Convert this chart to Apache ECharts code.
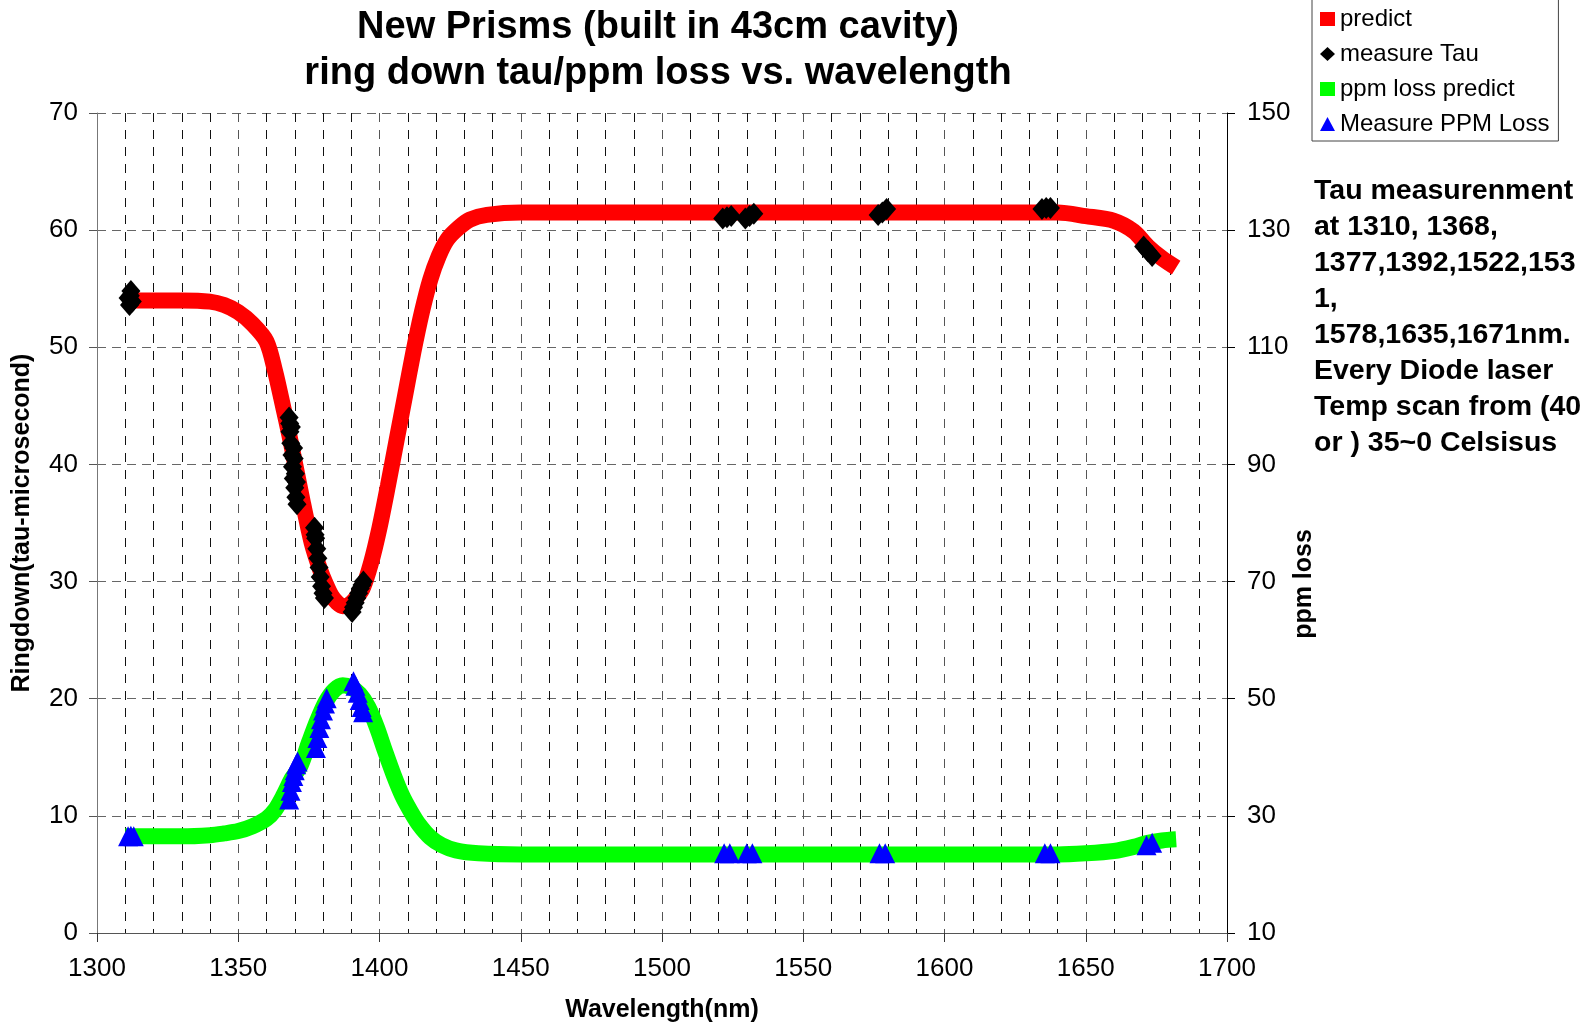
<!DOCTYPE html>
<html>
<head>
<meta charset="utf-8">
<title>New Prisms ring down</title>
<script src="https://cdn.jsdelivr.net/npm/echarts@6/dist/echarts.min.js"></script>
<style>
  html, body { margin: 0; padding: 0; background: #fff; }
  #chart { width: 1595px; height: 1024px; }
</style>
</head>
<body>
<div id="chart"></div>
<script>
// predicted ring down tau (left axis), [wavelength nm, tau us]
var predictTau = [
  [1310, 54.0], [1320, 54.0], [1330, 54.0], [1340, 53.9], [1345, 53.6],
  [1350, 53.0], [1355, 52.0], [1360, 50.5], [1363, 48.0], [1366, 44.8],
  [1368, 42.6], [1370, 40.2], [1373, 36.6], [1376, 33.3], [1379, 31.0],
  [1381, 29.8], [1383, 28.8], [1385, 28.2], [1387, 27.9], [1389, 28.0],
  [1391, 28.4], [1394, 29.4], [1397, 31.6], [1400, 34.6], [1403, 38.2],
  [1406, 42.0], [1409, 45.8], [1412, 49.6], [1415, 53.0], [1418, 55.8],
  [1421, 57.8], [1424, 59.2], [1428, 60.2], [1432, 60.9], [1438, 61.3],
  [1450, 61.5], [1500, 61.5], [1550, 61.5], [1600, 61.5], [1640, 61.5],
  [1650, 61.2], [1660, 60.8], [1667, 59.9], [1672, 58.6], [1677, 57.6],
  [1682, 56.8]
];

// measured tau points
var measureTau = [
  [1311, 54.2], [1311.5, 53.6], [1312, 54.8], [1312.5, 53.9], [1311.8, 54.4],
  [1368, 44.0], [1368.3, 42.8], [1368.6, 41.8], [1369, 40.8], [1369.2, 39.8],
  [1369.5, 38.8], [1370, 38.0], [1370.4, 37.2], [1370.8, 36.6], [1369.8, 40.5],
  [1370.2, 39.2], [1368.8, 43.2], [1369.6, 41.4], [1368.2, 43.5], [1370.6, 38.5],
  [1377, 34.6], [1377.4, 33.7], [1377.8, 32.8], [1378.2, 32.0], [1378.6, 31.2],
  [1379, 30.4], [1379.5, 29.6], [1380, 29.0], [1380.5, 28.6], [1377.2, 34.0],
  [1390.3, 27.4], [1390.8, 27.8], [1391.4, 28.2], [1392, 28.6], [1392.6, 29.0],
  [1393.2, 29.4], [1393.8, 29.7], [1394.3, 30.0],
  [1521.5, 61.0], [1523, 61.1], [1524.5, 61.2],
  [1529.5, 61.0], [1531, 61.2], [1532.5, 61.4],
  [1576.5, 61.3], [1578, 61.5], [1579.5, 61.8],
  [1634.5, 61.8], [1636, 61.9], [1637.5, 61.9],
  [1670.5, 58.6], [1672, 58.2], [1673.5, 57.8]
];

// predicted ppm loss (right axis)
var predictPpm = [
  [1310, 26.5], [1330, 26.5], [1340, 26.7], [1345, 27.0], [1350, 27.4],
  [1355, 28.2], [1360, 29.5], [1363, 31.0], [1366, 33.5], [1369, 36.4],
  [1372, 38.5], [1375, 42.5], [1378, 46.3], [1381, 49.5], [1384, 51.5],
  [1387, 52.3], [1390, 51.9], [1393, 50.8], [1396, 48.6], [1399, 45.2],
  [1402, 41.0], [1405, 37.0], [1408, 33.5], [1411, 30.8], [1414, 28.5],
  [1418, 26.3], [1422, 25.0], [1427, 24.1], [1435, 23.6], [1450, 23.4],
  [1500, 23.4], [1550, 23.4], [1600, 23.4], [1640, 23.4], [1650, 23.6],
  [1660, 24.0], [1667, 24.7], [1672, 25.4], [1677, 25.8], [1682, 26.0]
];

// measured ppm loss points
var measurePpm = [
  [1311, 26.5], [1312, 26.6], [1313, 26.5],
  [1368, 32.8], [1368.5, 34.3], [1369, 35.8], [1369.5, 36.8], [1370, 37.8],
  [1370.5, 38.8], [1371, 39.3],
  [1377.5, 41.6], [1378, 43.3], [1378.7, 45.0], [1379.3, 46.5], [1380, 48.0],
  [1380.7, 49.2], [1381.3, 50.1],
  [1390.8, 53.0], [1391.5, 52.2], [1392.3, 51.0], [1393, 49.8], [1393.7, 48.6], [1394.2, 47.7],
  [1522, 23.6], [1524, 23.6], [1530, 23.6], [1532, 23.6],
  [1577, 23.6], [1579, 23.6], [1635.5, 23.6], [1637.5, 23.6],
  [1671.5, 25.0], [1673.5, 25.4]
];

var noteLines = [
  "Tau measurenment",
  "at 1310, 1368,",
  "1377,1392,1522,153",
  "1,",
  "1578,1635,1671nm.",
  "Every Diode laser",
  "Temp scan from (40",
  "or ) 35~0 Celsisus"
];

var FONT = "'Liberation Sans', Arial, sans-serif";

var chart = echarts.init(document.getElementById("chart"), null, { renderer: "canvas" });

var option = {
  backgroundColor: "#fff",
  animation: false,
  textStyle: { fontFamily: FONT, color: "#000" },
  grid: { left: 97, right: 368, top: 113, bottom: 91, outerBoundsMode: "none", containLabel: false },
  legend: {
    orient: "vertical",
    left: 1312,
    top: -1,
    padding: [8, 9, 5, 8],
    itemWidth: 15,
    itemHeight: 14,
    itemGap: 11,
    borderColor: "#444",
    borderWidth: 1,
    textStyle: { fontSize: 24, fontFamily: FONT, color: "#000", lineHeight: 24 },
    data: [
      { name: "predict", icon: "rect" },
      { name: "measure Tau", icon: "diamond" },
      { name: "ppm loss predict", icon: "rect" },
      { name: "Measure PPM Loss", icon: "triangle" }
    ]
  },
  xAxis: {
    type: "value",
    min: 1300,
    max: 1700,
    interval: 50,
    name: "Wavelength(nm)",
    nameLocation: "middle",
    nameGap: 65,
    nameTextStyle: { fontSize: 25, fontWeight: "bold", fontFamily: FONT, color: "#000" },
    axisLine: { show: true, lineStyle: { color: "#555", width: 1 } },
    axisTick: { show: true, length: 9, lineStyle: { color: "#333" } },
    axisLabel: { fontSize: 26, color: "#000", margin: 23, fontFamily: FONT, formatter: function (v) { return String(v); } },
    splitLine: { show: true, lineStyle: { color: "#555", type: [9, 8], width: 1 } },
    minorTick: { show: false, splitNumber: 5 },
    minorSplitLine: { show: true, lineStyle: { color: "#111", type: [9, 8], width: 1 } }
  },
  yAxis: [
    {
      type: "value",
      min: 0,
      max: 70,
      interval: 10,
      name: "Ringdown(tau-microsecond)",
      nameLocation: "middle",
      nameGap: 62,
      nameTextStyle: { fontSize: 25, fontWeight: "bold", fontFamily: FONT, color: "#000" },
      axisLine: { show: true, lineStyle: { color: "#777", width: 1 } },
      axisTick: { show: true, length: 8, lineStyle: { color: "#555" } },
      axisLabel: { fontSize: 26, color: "#000", margin: 19, fontFamily: FONT },
      splitLine: { show: true, lineStyle: { color: "#666", type: [9, 6], width: 1 } }
    },
    {
      type: "value",
      min: 10,
      max: 150,
      alignTicks: true,
      position: "right",
      axisLine: { show: true, lineStyle: { color: "#000", width: 1 } },
      axisTick: { show: true, length: 8, lineStyle: { color: "#000" } },
      axisLabel: { fontSize: 26, color: "#000", margin: 20, fontFamily: FONT },
      splitLine: { show: false }
    }
  ],
  series: [
    {
      name: "predict",
      type: "line",
      yAxisIndex: 0,
      data: predictTau,
      smooth: 0.3,
      showSymbol: false,
      color: "#ff0000",
      lineStyle: { color: "#ff0000", width: 16, cap: "butt" },
      z: 2
    },
    {
      name: "measure Tau",
      type: "scatter",
      yAxisIndex: 0,
      data: measureTau,
      symbol: "diamond",
      symbolSize: [19, 22],
      itemStyle: { color: "#000", opacity: 1 },
      z: 3
    },
    {
      name: "ppm loss predict",
      type: "line",
      yAxisIndex: 1,
      data: predictPpm,
      smooth: 0.3,
      showSymbol: false,
      color: "#00ff00",
      lineStyle: { color: "#00ff00", width: 16, cap: "butt" },
      z: 2
    },
    {
      name: "Measure PPM Loss",
      type: "scatter",
      yAxisIndex: 1,
      data: measurePpm,
      symbol: "triangle",
      symbolSize: [20, 20],
      itemStyle: { color: "#0000ff", opacity: 1 },
      z: 3
    }
  ],
  graphic: [
    {
      type: "text",
      x: 658,
      y: 5,
      style: {
        text: "New Prisms (built in 43cm cavity)\nring down tau/ppm loss vs. wavelength",
        align: "center",
        font: "bold 38px " + FONT,
        lineHeight: 46,
        fill: "#000"
      }
    },
    {
      type: "text",
      left: 1314,
      top: 173,
      style: {
        text: noteLines.join("\n"),
        font: "bold 28.5px " + FONT,
        lineHeight: 36,
        fill: "#000"
      }
    },
    {
      type: "text",
      x: 1304,
      y: 584,
      rotation: Math.PI / 2,
      style: {
        text: "ppm loss",
        font: "bold 25px " + FONT,
        align: "center",
        verticalAlign: "middle",
        fill: "#000"
      }
    }
  ]
};

chart.setOption(option);
</script>
</body>
</html>
